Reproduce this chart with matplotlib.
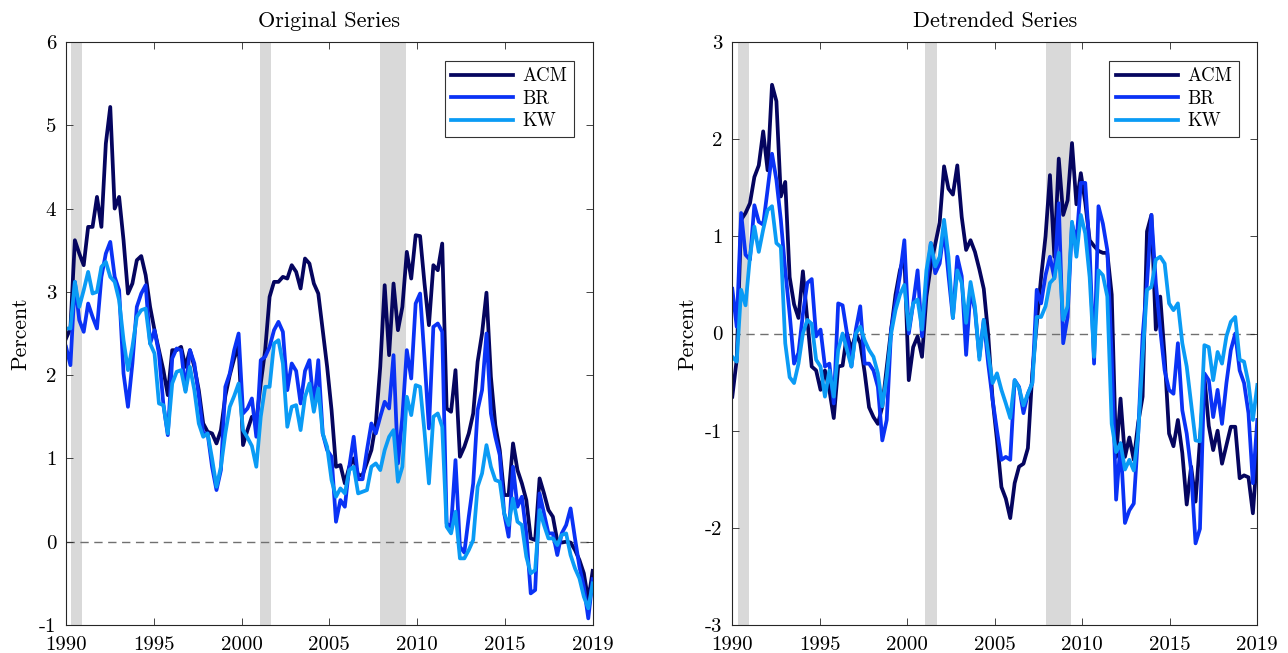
import numpy as np
import matplotlib
matplotlib.use("Agg")
import matplotlib.pyplot as plt

plt.rcParams['font.family'] = 'serif'
plt.rcParams['font.serif'] = ['cmr10', 'DejaVu Serif']
plt.rcParams['axes.formatter.use_mathtext'] = True

# quarterly term premium estimates, 1990Q1 - 2019Q4
acm = [2.44, 2.56, 3.62, 3.46, 3.32, 3.78, 3.78, 4.14, 3.78, 4.78,
       5.22, 4.00, 4.14, 3.62, 2.98, 3.10, 3.38, 3.43, 3.20, 2.82,
       2.54, 2.30, 2.06, 1.76, 2.30, 2.30, 2.34, 2.10, 2.30, 2.10,
       1.82, 1.42, 1.32, 1.30, 1.18, 1.34, 1.75, 2.00, 2.20, 2.35,
       1.16, 1.34, 1.50, 1.45, 1.90, 2.30, 2.94, 3.12, 3.12, 3.18,
       3.16, 3.32, 3.24, 3.04, 3.40, 3.34, 3.10, 2.98, 2.54, 2.10,
       1.58, 0.90, 0.92, 0.70, 0.90, 1.00, 0.80, 0.80, 0.95, 1.10,
       1.42, 2.10, 3.08, 2.24, 3.10, 2.54, 2.82, 3.48, 3.16, 3.68,
       3.67, 3.10, 2.60, 3.32, 3.26, 3.58, 1.60, 1.56, 2.06, 1.02,
       1.14, 1.30, 1.54, 2.16, 2.50, 2.99, 1.98, 1.40, 1.10, 0.56,
       0.56, 1.18, 0.86, 0.70, 0.50, 0.04, 0.02, 0.76, 0.58, 0.38,
       0.30, 0.01, -0.01, 0.00, -0.01, -0.10, -0.22, -0.38, -0.70, -0.35]

br = [2.34, 2.12, 3.12, 2.66, 2.52, 2.86, 2.70, 2.56, 3.18, 3.46,
      3.60, 3.18, 3.02, 2.02, 1.62, 2.14, 2.82, 2.98, 3.08, 2.38,
      2.54, 2.26, 1.65, 1.28, 2.20, 2.32, 2.30, 1.82, 2.30, 2.14,
      1.75, 1.30, 1.30, 0.90, 0.62, 0.86, 1.86, 2.02, 2.30, 2.50,
      1.54, 1.60, 1.72, 1.26, 2.18, 2.22, 2.34, 2.54, 2.64, 2.52,
      1.82, 2.14, 2.05, 1.66, 2.05, 2.18, 1.62, 2.18, 1.30, 1.10,
      1.02, 0.24, 0.50, 0.42, 0.90, 1.26, 0.75, 0.75, 1.10, 1.42,
      1.30, 1.50, 1.68, 1.60, 2.24, 0.94, 1.50, 2.30, 1.96, 2.86,
      2.98, 2.20, 1.36, 2.58, 2.62, 2.52, 0.22, 0.18, 0.98, -0.06,
      -0.13, 0.30, 0.70, 1.58, 1.82, 2.50, 1.54, 1.26, 1.04, 0.34,
      0.06, 0.90, 0.42, 0.54, 0.10, -0.62, -0.58, 0.58, 0.34, 0.10,
      0.10, -0.16, 0.10, 0.20, 0.40, 0.04, -0.30, -0.54, -0.92, -0.45]

kw = [2.56, 2.56, 3.12, 2.82, 3.02, 3.24, 2.98, 3.00, 3.30, 3.36,
      3.18, 3.12, 2.90, 2.42, 2.06, 2.34, 2.70, 2.78, 2.80, 2.38,
      2.26, 1.66, 1.64, 1.30, 1.90, 2.04, 2.06, 1.80, 2.10, 1.82,
      1.42, 1.26, 1.30, 1.00, 0.66, 0.90, 1.30, 1.62, 1.75, 1.90,
      1.34, 1.25, 1.15, 0.90, 1.50, 1.86, 1.86, 2.38, 2.42, 2.14,
      1.38, 1.62, 1.64, 1.34, 1.74, 1.90, 1.56, 1.84, 1.30, 1.14,
      0.74, 0.54, 0.64, 0.58, 0.86, 0.90, 0.58, 0.60, 0.62, 0.90,
      0.94, 0.86, 1.10, 1.26, 1.34, 0.72, 0.90, 1.74, 1.52, 1.88,
      1.86, 1.32, 0.70, 1.50, 1.54, 1.38, 0.18, 0.10, 0.36, -0.20,
      -0.20, -0.10, 0.02, 0.66, 0.82, 1.16, 0.90, 0.74, 0.72, 0.34,
      0.20, 0.52, 0.24, 0.20, -0.18, -0.38, -0.34, 0.38, 0.20, 0.04,
      0.04, -0.04, 0.08, 0.10, -0.16, -0.32, -0.44, -0.66, -0.80, -0.50]

# detrended versions
acm_d = [-0.65, -0.27, 1.17, 1.24, 1.34, 1.61, 1.73, 2.08, 1.68, 2.56,
         2.39, 1.41, 1.56, 0.58, 0.30, 0.16, 0.64, 0.14, -0.34, -0.38,
         -0.58, -0.38, -0.58, -0.87, -0.34, -0.33, 0.00, -0.17, 0.00, -0.10,
         -0.40, -0.76, -0.86, -0.93, -0.75, -0.35, 0.04, 0.40, 0.65, 0.80,
         -0.48, -0.14, -0.03, -0.24, 0.38, 0.70, 0.92, 1.14, 1.72, 1.49,
         1.43, 1.73, 1.20, 0.86, 0.96, 0.84, 0.66, 0.46, -0.01, -0.68,
         -1.10, -1.58, -1.70, -1.90, -1.54, -1.37, -1.34, -1.18, -0.41, 0.10,
         0.58, 1.00, 1.63, 0.79, 1.80, 1.22, 1.37, 1.96, 1.33, 1.65,
         1.35, 0.96, 0.90, 0.85, 0.83, 0.83, 0.40, -1.27, -0.67, -1.27,
         -1.07, -1.30, -0.92, -0.65, 1.05, 1.22, 0.04, 0.38, -0.24, -1.03,
         -1.16, -0.89, -1.23, -1.76, -1.37, -1.73, -1.10, -0.44, -0.95, -1.20,
         -1.00, -1.34, -1.15, -0.96, -0.96, -1.49, -1.46, -1.48, -1.85, -1.22]

br_d = [0.46, 0.07, 1.24, 0.81, 0.76, 1.32, 1.15, 1.12, 1.48, 1.85,
        1.58, 1.17, 0.65, 0.20, -0.31, -0.20, 0.20, 0.52, 0.56, -0.03,
        0.04, -0.34, -0.31, -0.72, 0.31, 0.29, 0.00, -0.34, 0.04, 0.28,
        -0.31, -0.31, -0.38, -0.55, -1.10, -0.89, 0.04, 0.31, 0.60, 0.96,
        0.00, 0.31, 0.65, -0.03, 0.50, 0.93, 0.62, 0.72, 1.07, 0.60,
        0.16, 0.79, 0.59, -0.22, 0.45, 0.24, -0.24, 0.14, -0.31, -0.68,
        -1.00, -1.30, -1.27, -1.30, -0.48, -0.55, -0.82, -0.62, -0.51, 0.45,
        0.31, 0.60, 0.79, 0.57, 1.34, -0.10, 0.17, 1.13, 0.93, 1.55,
        1.55, 0.86, -0.31, 1.31, 1.13, 0.86, -0.24, -1.71, -1.13, -1.95,
        -1.82, -1.75, -1.03, -0.03, 0.52, 1.22, 0.52, 0.04, -0.38, -0.58,
        -0.62, -0.10, -0.79, -1.03, -1.41, -2.16, -2.01, -0.41, -0.48, -0.86,
        -0.58, -0.93, -0.51, -0.17, 0.00, -0.38, -0.51, -0.82, -1.54, -0.89]

kw_d = [-0.24, -0.29, 0.45, 0.29, 0.79, 1.10, 0.84, 1.07, 1.27, 1.31,
        0.93, 0.89, -0.10, -0.45, -0.51, -0.31, 0.00, 0.14, 0.10, -0.27,
        -0.34, -0.65, -0.38, -0.65, -0.17, 0.00, -0.17, -0.34, 0.00, 0.07,
        -0.07, -0.17, -0.24, -0.41, -0.75, -0.44, 0.00, 0.24, 0.40, 0.50,
        0.04, 0.31, 0.35, 0.04, 0.65, 0.93, 0.69, 0.79, 1.17, 0.79,
        0.16, 0.65, 0.52, 0.11, 0.53, 0.28, -0.27, 0.14, -0.20, -0.51,
        -0.41, -0.58, -0.72, -0.87, -0.48, -0.56, -0.74, -0.62, -0.51, 0.17,
        0.17, 0.28, 0.52, 0.57, 0.83, 0.14, 0.28, 1.15, 0.79, 1.22,
        1.03, 0.58, -0.24, 0.65, 0.60, 0.38, -0.93, -1.22, -1.13, -1.40,
        -1.30, -1.41, -1.03, -0.24, 0.45, 0.48, 0.76, 0.79, 0.72, 0.31,
        0.24, 0.31, -0.10, -0.34, -0.72, -1.10, -1.11, -0.12, -0.14, -0.48,
        -0.19, -0.31, -0.03, 0.12, 0.17, -0.27, -0.29, -0.51, -0.89, -0.53]

# NBER recessions (start, end) in axis years
recessions = [(1990.30, 1990.93), (2001.03, 2001.70), (2007.90, 2009.35)]

xticks = [1990, 1995, 2000, 2005, 2010, 2015, 2020]
xticklabels = ['1990', '1995', '2000', '2005', '2010', '2015', '2019']

names = ['ACM', 'BR', 'KW']
colors = ['#05055f', '#0a32f5', '#0a9bf5']

t = np.linspace(1990, 2020, len(acm))

fig = plt.figure(figsize=(12.88, 6.53), dpi=100)
ax1 = fig.add_axes([66 / 1288, 28 / 653, 526.7 / 1288, 583 / 653])
ax2 = fig.add_axes([732.3 / 1288, 28 / 653, 525 / 1288, 583 / 653])


def draw_panel(ax, series, ylim, yticks, title):
    for a, b in recessions:
        ax.axvspan(a, b, color='#d9d9d9', lw=0, zorder=0)
    ax.axhline(0, color='#707070', lw=1.0, ls=(0, (6, 4)), zorder=1)
    for s, name, c in zip(series, names, colors):
        ax.plot(t, s, color=c, lw=2.7, label=name, zorder=2)
    ax.set_xlim(1990, 2020)
    ax.set_ylim(*ylim)
    ax.set_xticks(xticks)
    ax.set_xticklabels(xticklabels)
    ax.set_yticks(yticks)
    ax.set_yticklabels([str(v) for v in yticks])
    ax.tick_params(direction='in', length=5, width=0.6, top=True, right=True,
                   labelsize=15, colors='#262626', labelcolor='black')
    ax.tick_params(axis='x', pad=8)
    ax.tick_params(axis='y', pad=7)
    for sp in ax.spines.values():
        sp.set_color('#262626')
        sp.set_linewidth(0.8)
    ax.set_title(title, fontsize=16, pad=11)
    ax.set_ylabel('Percent', fontsize=15.5, labelpad=6)
    leg = ax.legend(loc='upper right', fontsize=13.5, handlelength=3.3,
                    frameon=True, fancybox=False, edgecolor='black',
                    borderaxespad=1.0, borderpad=0.35, labelspacing=0.25,
                    handletextpad=0.5)
    leg.get_frame().set_linewidth(0.8)


draw_panel(ax1, [acm, br, kw], (-1, 6), list(range(-1, 7)), 'Original Series')
draw_panel(ax2, [acm_d, br_d, kw_d], (-3, 3), list(range(-3, 4)), 'Detrended Series')

fig.savefig('out.png', dpi=100)
